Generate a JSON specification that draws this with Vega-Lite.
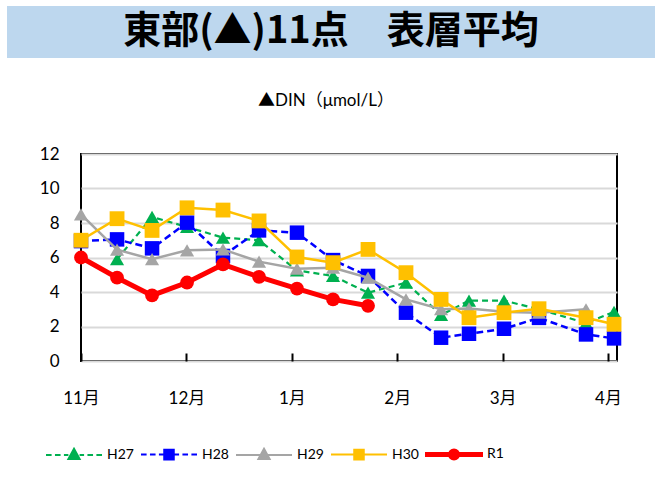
{
  "$schema": "https://vega.github.io/schema/vega-lite/v6.json",
  "background": "white",
  "padding": {"left": 7, "top": 6, "right": 5, "bottom": 4},
  "spacing": 33,
  "resolve": {"legend": {"color": "independent"}},
  "config": {"view": {"stroke": null}, "font": "Lato"},
  "vconcat": [
    {
      "width": 648,
      "height": 52,
      "view": {"fill": "#BDD7EE", "stroke": null},
      "data": {"values": [{"t": "東部(▲)11点　表層平均"}]},
      "mark": {"type": "text", "fontSize": 38, "fontWeight": "bold", "font": "Noto Sans CJK JP", "color": "black", "align": "center", "baseline": "middle"},
      "encoding": {"text": {"field": "t"}}
    },
    {
      "spacing": 0,
      "resolve": {"legend": {"color": "independent"}},
      "hconcat": [
        {
          "width": 1,
          "height": 1,
          "data": {"values": [{"t": ""}]},
          "mark": {"type": "text"},
          "encoding": {"text": {"field": "t"}}
        },
        {
          "width": 536,
          "height": 207,
          "view": {"stroke": "#000000", "strokeWidth": 2},
          "title": {"text": "▲DIN（μmol/L）", "fontSize": 17, "fontWeight": "normal", "font": "Lato, Noto Sans CJK JP", "offset": 35, "dx": -23, "anchor": "middle", "color": "black"},
          "data": {"values": [
            {"s": "H27", "m": 0.342, "v": 5.9},
            {"s": "H27", "m": 0.674, "v": 8.35},
            {"s": "H27", "m": 1.006, "v": 7.77},
            {"s": "H27", "m": 1.347, "v": 7.15},
            {"s": "H27", "m": 1.689, "v": 7.0},
            {"s": "H27", "m": 2.049, "v": 5.25},
            {"s": "H27", "m": 2.391, "v": 4.93},
            {"s": "H27", "m": 2.723, "v": 3.96},
            {"s": "H27", "m": 3.083, "v": 4.54},
            {"s": "H27", "m": 3.416, "v": 2.67},
            {"s": "H27", "m": 3.681, "v": 3.5},
            {"s": "H27", "m": 4.013, "v": 3.5},
            {"s": "H27", "m": 4.345, "v": 3.0},
            {"s": "H27", "m": 4.791, "v": 2.2},
            {"s": "H27", "m": 5.057, "v": 2.85},
            {"s": "H28", "m": 0, "v": 6.95},
            {"s": "H28", "m": 0.342, "v": 7.05},
            {"s": "H28", "m": 0.674, "v": 6.53},
            {"s": "H28", "m": 1.006, "v": 8.02},
            {"s": "H28", "m": 1.347, "v": 6.09},
            {"s": "H28", "m": 1.689, "v": 7.57},
            {"s": "H28", "m": 2.049, "v": 7.44},
            {"s": "H28", "m": 2.391, "v": 5.85},
            {"s": "H28", "m": 2.723, "v": 4.93},
            {"s": "H28", "m": 3.083, "v": 2.8},
            {"s": "H28", "m": 3.416, "v": 1.35},
            {"s": "H28", "m": 3.681, "v": 1.58},
            {"s": "H28", "m": 4.013, "v": 1.87},
            {"s": "H28", "m": 4.345, "v": 2.5},
            {"s": "H28", "m": 4.791, "v": 1.54},
            {"s": "H28", "m": 5.057, "v": 1.31},
            {"s": "H29", "m": 0, "v": 8.5},
            {"s": "H29", "m": 0.342, "v": 6.45},
            {"s": "H29", "m": 0.674, "v": 5.9},
            {"s": "H29", "m": 1.006, "v": 6.42},
            {"s": "H29", "m": 1.347, "v": 6.47},
            {"s": "H29", "m": 1.689, "v": 5.76},
            {"s": "H29", "m": 2.049, "v": 5.35},
            {"s": "H29", "m": 2.391, "v": 5.41},
            {"s": "H29", "m": 2.723, "v": 4.83},
            {"s": "H29", "m": 3.083, "v": 3.57},
            {"s": "H29", "m": 3.416, "v": 3.0},
            {"s": "H29", "m": 3.681, "v": 3.05},
            {"s": "H29", "m": 4.013, "v": 2.85},
            {"s": "H29", "m": 4.345, "v": 2.8},
            {"s": "H29", "m": 4.791, "v": 3.0},
            {"s": "H30", "m": 0, "v": 7.0},
            {"s": "H30", "m": 0.342, "v": 8.25},
            {"s": "H30", "m": 0.674, "v": 7.57},
            {"s": "H30", "m": 1.006, "v": 8.88},
            {"s": "H30", "m": 1.347, "v": 8.75},
            {"s": "H30", "m": 1.689, "v": 8.12},
            {"s": "H30", "m": 2.049, "v": 6.03},
            {"s": "H30", "m": 2.391, "v": 5.7},
            {"s": "H30", "m": 2.723, "v": 6.47},
            {"s": "H30", "m": 3.083, "v": 5.12},
            {"s": "H30", "m": 3.416, "v": 3.57},
            {"s": "H30", "m": 3.681, "v": 2.51},
            {"s": "H30", "m": 4.013, "v": 2.8},
            {"s": "H30", "m": 4.345, "v": 3.03},
            {"s": "H30", "m": 4.791, "v": 2.51},
            {"s": "H30", "m": 5.057, "v": 2.13},
            {"s": "R1", "m": 0, "v": 6.0},
            {"s": "R1", "m": 0.342, "v": 4.83},
            {"s": "R1", "m": 0.674, "v": 3.8},
            {"s": "R1", "m": 1.006, "v": 4.55},
            {"s": "R1", "m": 1.347, "v": 5.6},
            {"s": "R1", "m": 1.689, "v": 4.88},
            {"s": "R1", "m": 2.049, "v": 4.2},
            {"s": "R1", "m": 2.391, "v": 3.57},
            {"s": "R1", "m": 2.723, "v": 3.2}
          ]},
          "encoding": {
            "x": {"field": "m", "type": "quantitative",
              "scale": {"domain": [0, 5.085], "nice": false, "zero": false},
              "axis": {"values": [0, 1, 2, 3, 4, 5], "labelExpr": "['11月','12月','1月','2月','3月','4月'][datum.value]", "title": null, "grid": false, "domain": false, "ticks": true, "offset": -8, "tickSize": 8, "tickWidth": 2, "tickColor": "black", "labelFontSize": 17, "labelColor": "black", "labelPadding": 29, "labelFont": "Lato, Noto Sans CJK JP", "labelFlush": false, "labelOverlap": false}},
            "y": {"field": "v", "type": "quantitative",
              "scale": {"domain": [0, 12], "nice": false},
              "axis": {"values": [0, 2, 4, 6, 8, 10, 12], "title": null, "grid": true, "gridColor": "#D9D9D9", "gridWidth": 2, "domain": false, "ticks": false, "labelFontSize": 17, "labelColor": "black", "labelPadding": 22, "minExtent": 72, "labelFont": "Lato", "labelFlush": false, "labelOverlap": false}},
            "color": {"field": "s", "type": "nominal",
              "scale": {"domain": ["H27", "H28", "H29", "H30", "R1"], "range": ["#00B050", "#0000FF", "#A5A5A5", "#FFC000", "#FF0000"]},
              "legend": {"orient": "none", "legendX": -36, "legendY": 271, "direction": "horizontal", "title": null, "padding": 0, "symbolSize": 3136, "labelFontSize": 14, "labelFont": "Lato", "labelColor": "black", "labelOffset": 4, "columnPadding": 3,
                "encode": {"symbols": {"update": {
                  "shape": {"signal": "datum.value === 'H27' ? 'M-1,0H-0.8M-0.68,0H-0.48M-0.36,0H-0.2M0.2,0H0.36M0.48,0H0.68M0.8,0H1M0,-0.22L0.2,0.15L-0.2,0.15Z' : datum.value === 'H28' ? 'M-1,0H-0.8M-0.68,0H-0.48M-0.36,0H-0.2M0.2,0H0.36M0.48,0H0.68M0.8,0H1M-0.17,-0.17H0.17V0.17H-0.17Z' : datum.value === 'H29' ? 'M-1,0H1M0,-0.22L0.2,0.15L-0.2,0.15Z' : datum.value === 'H30' ? 'M-1,0H1M-0.17,-0.17H0.17V0.17H-0.17Z' : 'M-1,-0.055H1V0.055H-1ZM0.18,0A0.18,0.18,0,1,1,-0.18,0A0.18,0.18,0,1,1,0.18,0Z'"},
                  "size": {"value": 3136},
                  "fill": {"signal": "scale('color', datum.value)"},
                  "stroke": {"signal": "scale('color', datum.value)"},
                  "strokeWidth": {"value": 2},
                  "strokeDash": {"value": []},
                  "opacity": {"value": 1}
                }}}}
            }
          },
          "layer": [
            {"transform": [{"filter": "datum.s === 'H27'"}], "mark": {"type": "line", "strokeWidth": 2.2, "strokeDash": [6, 4]}},
            {"transform": [{"filter": "datum.s === 'H27'"}], "mark": {"type": "point", "shape": "triangle-up", "size": 200, "filled": true, "opacity": 1}},
            {"transform": [{"filter": "datum.s === 'H28'"}], "mark": {"type": "line", "strokeWidth": 2.5, "strokeDash": [7, 4]}},
            {"transform": [{"filter": "datum.s === 'H28'"}], "mark": {"type": "point", "shape": "square", "size": 210, "filled": true, "opacity": 1}},
            {"transform": [{"filter": "datum.s === 'H29'"}], "mark": {"type": "line", "strokeWidth": 2.5}},
            {"transform": [{"filter": "datum.s === 'H29'"}], "mark": {"type": "point", "shape": "triangle-up", "size": 200, "filled": true, "opacity": 1}},
            {"transform": [{"filter": "datum.s === 'H30'"}], "mark": {"type": "line", "strokeWidth": 2.5}},
            {"transform": [{"filter": "datum.s === 'H30'"}], "mark": {"type": "point", "shape": "square", "size": 220, "filled": true, "opacity": 1}},
            {"transform": [{"filter": "datum.s === 'R1'"}], "mark": {"type": "line", "strokeWidth": 5}},
            {"transform": [{"filter": "datum.s === 'R1'"}], "mark": {"type": "point", "shape": "circle", "size": 190, "filled": true, "opacity": 1}}
          ]
        }
      ]
    }
  ]
}
